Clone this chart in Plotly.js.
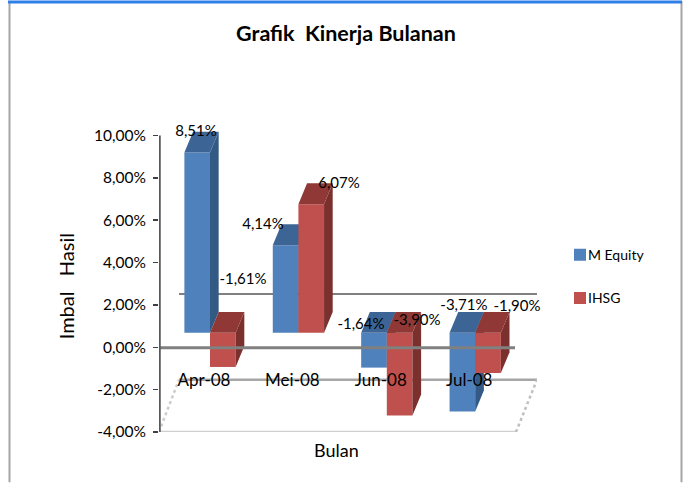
<!DOCTYPE html>
<html>
<head>
<meta charset="utf-8">
<script src="https://cdn.plot.ly/plotly-3.0.1.min.js"></script>
<style>html,body{margin:0;padding:0;background:#fff;}#c{width:684px;height:483px;}</style>
</head>
<body>
<div id="c"></div>
<script>
var categories = ['Apr-08', 'Mei-08', 'Jun-08', 'Jul-08'];
var mEquity = [8.51, 4.14, -1.64, -3.71];
var ihsg = [-1.61, 6.07, -3.90, -1.90];
var seriesNames = ['M Equity', 'IHSG'];
var yTicks = [-4, -2, 0, 2, 4, 6, 8, 10];
var yTickLabels = ['-4,00%', '-2,00%', '0,00%', '2,00%', '4,00%', '6,00%', '8,00%', '10,00%'];
var labelX = {m: [-0.09, 0.667, 1.776, 2.94], i: [0.441, 1.527, 2.41, 3.54]};
var labelY = {m: [10.14, 5.76, 1.06, 1.95], i: [3.18, 7.69, 1.25, 1.91]};

var W = 684, H = 483, L = 159, R = 537, B = 432.5, T = 124.5;
var xScale = 88.4, yScale = 21.25, x0px = 204;
var xRange = [(L - x0px) / xScale, (R - x0px) / xScale];
var yRange = [-4, -4 + (B - T) / yScale];
var base = 0.68, depthX = 0.098, depthY = 0.99, barW = 0.29, groupShift = 0.068;
var FONT = 'Lato, "Open Sans", sans-serif';
var NB = '\u00A0', ZW = '\u200B';

function xv(p) { return (p - x0px) / xScale; }
function yv(p) { return (347.5 - p) / yScale; }
function px(p) { return (p - L) / (R - L); }
function py(p) { return (B - p) / (B - T); }
function fmt(v) { return v.toFixed(2).replace('.', ',') + '%'; }

function faces(vals, shift, xa, ya, topColor, sideColor) {
  var out = [];
  vals.forEach(function (v, i) {
    var l = i + groupShift + shift, r = l + barW;
    var hi = base + Math.max(v, 0), lo = base + Math.min(v, 0);
    out.push({type: 'scatter', mode: 'lines', xaxis: xa, yaxis: ya, hoverinfo: 'skip', showlegend: false,
      x: [r, r + depthX, r + depthX, r, r], y: [hi, hi + depthY, lo + depthY, lo, hi],
      fill: 'toself', fillcolor: sideColor, line: {width: 0}});
    out.push({type: 'scatter', mode: 'lines', xaxis: xa, yaxis: ya, hoverinfo: 'skip', showlegend: false,
      x: [l, l + depthX, r + depthX, r, l], y: [hi, hi + depthY, hi + depthY, hi, hi],
      fill: 'toself', fillcolor: topColor, line: {width: 0}});
  });
  return out;
}

var xs = categories.map(function (c, i) { return i; });
var data = [];
data.push({type: 'bar', name: seriesNames[0], legendgroup: 'a', x: xs.map(function (i) { return i + groupShift - barW / 2; }),
  y: mEquity, base: base, width: barW, marker: {color: '#4F81BD', line: {width: 0}}, hoverinfo: 'skip'});
data = data.concat(faces(mEquity, -barW, 'x', 'y', '#3C6494', '#335A85'));
data.push({type: 'bar', name: seriesNames[1], legendgroup: 'b', xaxis: 'x2', yaxis: 'y2', x: xs.map(function (i) { return i + groupShift + barW / 2; }),
  y: ihsg, base: base, width: barW, marker: {color: '#C0504D', line: {width: 0}}, hoverinfo: 'skip'});
data = data.concat(faces(ihsg, 0, 'x2', 'y2', '#8F3835', '#7C302E'));
data.push({type: 'scatter', mode: 'text', xaxis: 'x2', yaxis: 'y2', showlegend: false, hoverinfo: 'skip', cliponaxis: false,
  x: labelX.m.concat(labelX.i), y: labelY.m.concat(labelY.i),
  text: mEquity.concat(ihsg).map(fmt), textposition: 'middle center',
  textfont: {family: FONT, size: 15, color: '#000'}});

function seg(x1, y1, x2, y2, color, w, layer, dash) {
  return {type: 'line', xref: 'x', yref: 'y', x0: xv(x1), y0: yv(y1), x1: xv(x2), y1: yv(y2), layer: layer,
    line: {color: color, width: w, dash: dash || 'solid'}};
}
function frame(x1, y1, x2, y2, color, w) {
  return {type: 'line', xref: 'paper', yref: 'paper', x0: px(x1), y0: py(y1), x1: px(x2), y1: py(y2), layer: 'above',
    line: {color: color, width: w}};
}
var shapes = [
  seg(179, 294, 537, 294, '#808080', 2, 'below'),
  seg(179, 380, 537, 380, '#A6A6A6', 2.5, 'below'),
  seg(159, 432.5, 516, 432.5, '#D0D0D0', 2.5, 'below'),
  seg(159, 432.5, 179, 380, '#CCCCCC', 2.5, 'below', 'dot'),
  seg(516, 432.5, 537, 380, '#BFBFBF', 2.5, 'below', 'dot'),
  seg(159, 348, 515, 348, '#808080', 3, 'above'),
  seg(159, 135, 159, 432.5, '#595959', 3.5, 'above'),
  frame(9.5, 0, 9.5, 483, '#A6A6A6', 2),
  frame(681.5, 0, 681.5, 483, '#A6A6A6', 2),
  frame(8, 1, 682, 1, '#2F7FE8', 3)
];

var layout = {
  width: W, height: H, autosize: false,
  margin: {l: L, r: W - R, t: T, b: H - B, pad: 0},
  paper_bgcolor: '#fff', plot_bgcolor: 'rgba(0,0,0,0)',
  barmode: 'overlay',
  font: {family: FONT, size: 15, color: '#000'},
  title: {text: 'Grafik' + NB + NB + 'Kinerja Bulanan', xref: 'container', yref: 'container', x: 346 / W, y: 1 - 33 / H,
    xanchor: 'center', yanchor: 'middle', font: {family: FONT, size: 21.5, color: '#000', weight: 700}},
  xaxis: {range: xRange, tickvals: xs, ticktext: categories, showgrid: false, zeroline: false, showline: false,
    ticks: '', anchor: 'free', position: py(368), tickfont: {family: FONT, size: 17, color: '#000'},
    title: {text: 'Bulan' + NB + NB + NB + NB + NB + ZW, font: {family: FONT, size: 18, color: '#000'}, standoff: 55}, automargin: false, fixedrange: true},
  yaxis: {range: yRange, tickvals: yTicks, ticktext: yTickLabels, showgrid: false, zeroline: false, showline: false,
    ticks: 'outside', ticklen: 5, tickwidth: 1.5, tickcolor: '#404040', ticklabelstandoff: 4, tickfont: {family: FONT, size: 15.5, color: '#000'},
    title: {text: 'Imbal' + NB + NB + NB + 'Hasil' + NB + NB + NB + ZW, font: {family: FONT, size: 20, color: '#000'}, standoff: 13}, automargin: false, fixedrange: true},
  xaxis2: {range: xRange, overlaying: 'x', visible: false, anchor: 'y2', fixedrange: true},
  yaxis2: {range: yRange, overlaying: 'y', visible: false, anchor: 'x2', fixedrange: true},
  legend: {x: px(560), xanchor: 'left', y: py(239), yanchor: 'top', bgcolor: 'rgba(0,0,0,0)', borderwidth: 0,
    font: {family: FONT, size: 14, color: '#000'}, tracegroupgap: 22, traceorder: 'grouped'},
  shapes: shapes,
  showlegend: true
};

Plotly.newPlot('c', data, layout, {displayModeBar: false, staticPlot: true}).then(function (gd) {
  // The reference keeps its legend labels close to the swatches.
  gd.querySelectorAll('.legendtext').forEach(function (t) {
    t.setAttribute('x', parseFloat(t.getAttribute('x')) - 12);
  });
});
</script>
</body>
</html>
